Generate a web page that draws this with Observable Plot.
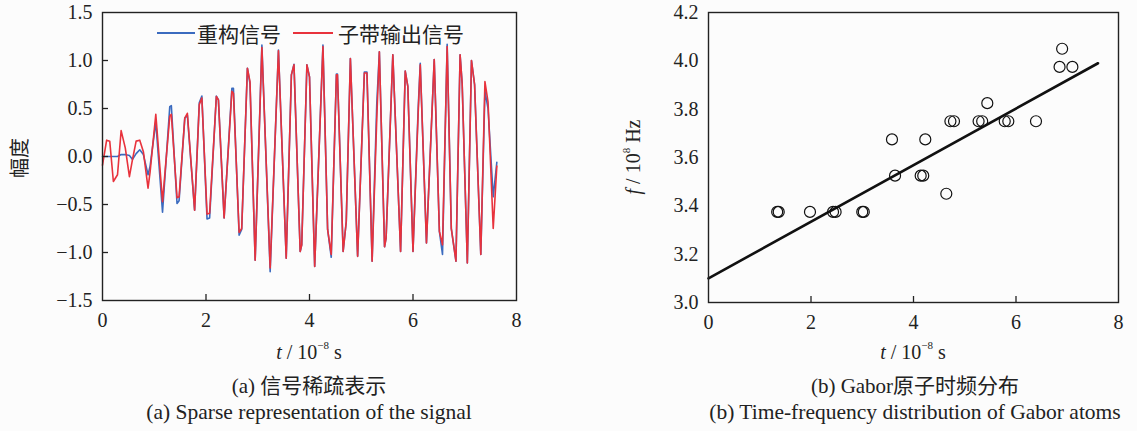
<!DOCTYPE html>
<html>
<head>
<meta charset="utf-8">
<script src="https://cdn.jsdelivr.net/npm/d3@7"></script>
<script src="https://cdn.jsdelivr.net/npm/@observablehq/plot@0.6"></script>
<style>
  html, body { margin: 0; padding: 0; background: #fcfcfc; }
  #page { position: relative; width: 1137px; height: 431px; overflow: hidden;
          font-family: "Liberation Serif", "Noto Sans CJK SC", serif; color: #222; }
  .abs { position: absolute; }
  .center { transform: translate(-50%, -50%); white-space: nowrap; }
  .rot { transform: translate(-50%, -50%) rotate(-90deg); white-space: nowrap; }
  .axlabel { font-size: 20px; }
  .axlabel sup { font-size: 11px; position: relative; top: -2px; }
  .cap-zh { font-size: 21px; }
  .cap-en { font-size: 21.5px; }
  .legend { font-family: "Noto Sans CJK SC", sans-serif; font-size: 21px; line-height: 1; }
  .swatch { height: 2px; }
</style>
</head>
<body>
<div id="page">
  <div id="left" class="abs" style="left:0;top:0"></div>
  <div id="right" class="abs" style="left:580px;top:0"></div>

  <!-- legend of the signal panel -->
  <div class="abs swatch" style="left:157px;top:32px;width:38px;background:#3b6bbf"></div>
  <div class="abs legend center" style="left:239px;top:33px">重构信号</div>
  <div class="abs swatch" style="left:293px;top:32px;width:40px;background:#e8323c"></div>
  <div class="abs legend center" style="left:401px;top:33px">子带输出信号</div>

  <!-- axis titles -->
  <div class="abs rot axlabel" style="left:18px;top:158px;font-family:'Noto Sans CJK SC',sans-serif">幅度</div>
  <div class="abs center axlabel" style="left:309px;top:352px"><i>t</i> / 10<sup>−8</sup> s</div>
  <div class="abs rot axlabel" style="left:633px;top:157px"><i>f</i> / 10<sup>8</sup> Hz</div>
  <div class="abs center axlabel" style="left:913px;top:352px"><i>t</i> / 10<sup>−8</sup> s</div>

  <!-- captions -->
  <div class="abs center cap-zh" style="left:309px;top:384px">(a) 信号稀疏表示</div>
  <div class="abs center cap-en" style="left:309px;top:412px">(a) Sparse representation of the signal</div>
  <div class="abs center cap-zh" style="left:915px;top:384px">(b) Gabor原子时频分布</div>
  <div class="abs center cap-en" style="left:915px;top:412px">(b) Time-frequency distribution of Gabor atoms</div>
</div>
<script>
// ---- signal panel: sample times (10^-8 s) and amplitudes ----
const time = [
  0.00,0.08,0.14,0.21,0.29,0.36,0.44,0.52,0.58,0.65,
  0.72,0.79,0.88,0.92,1.03,1.16,1.30,1.33,1.44,1.48,
  1.59,1.64,1.78,1.87,1.92,2.02,2.07,2.20,2.24,2.35,
  2.50,2.53,2.64,2.69,2.80,2.85,2.95,3.08,3.24,3.40,
  3.55,3.65,3.70,3.82,3.85,3.95,4.00,4.10,4.26,4.35,
  4.42,4.52,4.54,4.65,4.71,4.79,4.93,5.06,5.11,5.21,
  5.30,5.35,5.45,5.48,5.61,5.76,5.85,5.90,6.00,6.10,
  6.14,6.26,6.41,6.51,6.57,6.66,6.74,6.83,6.91,6.95,
  7.05,7.13,7.19,7.31,7.39,7.45,7.55,7.62
];
// 重构信号
const reconstructed = [
  0.00,0.00,0.00,0.00,0.00,0.02,0.02,0.01,-0.03,0.03,
  0.07,0.02,-0.19,-0.10,0.36,-0.58,0.52,0.53,-0.49,-0.46,
  0.40,0.43,-0.56,0.56,0.63,-0.65,-0.64,0.63,0.59,-0.64,
  0.71,0.71,-0.82,-0.76,0.92,0.76,-1.08,1.16,-1.20,1.11,
  -1.06,0.85,0.96,-0.99,-0.92,0.955,0.83,-1.146,1.16,-0.76,
  -1.05,0.86,0.86,-0.99,-0.68,1.02,-1.04,0.88,0.88,-1.09,
  0.55,1.09,-0.94,-0.85,1.06,-0.99,0.89,0.73,-0.99,0.50,
  0.97,-0.90,1.01,-0.78,-1.02,1.17,-0.75,-1.09,1.06,0.76,
  -1.11,1.00,0.75,-1.02,0.68,0.50,-0.42,-0.06
];
// 子带输出信号
const subband = [
  -0.09,0.17,0.16,-0.26,-0.19,0.27,0.09,-0.21,-0.03,0.16,
  0.17,0.05,-0.33,-0.16,0.44,-0.47,0.42,0.44,-0.43,-0.42,
  0.40,0.45,-0.56,0.54,0.61,-0.60,-0.59,0.625,0.59,-0.64,
  0.68,0.66,-0.79,-0.75,0.92,0.78,-1.08,1.135,-1.16,1.10,
  -1.06,0.85,0.955,-0.99,-0.92,0.955,0.83,-1.146,1.146,-0.76,
  -1.02,0.85,0.85,-0.99,-0.68,1.02,-1.04,0.87,0.87,-1.09,
  0.40,1.09,-0.94,-0.85,1.06,-0.99,0.89,0.73,-0.99,0.45,
  0.955,-0.90,1.01,-0.78,-0.92,1.146,-0.75,-1.09,1.06,0.76,
  -1.11,1.00,0.75,-1.02,0.78,0.57,-0.75,-0.10
];
const signalXTicks = [0, 2, 4, 6, 8];
const signalYTicks = [-1.5, -1.0, -0.5, 0.0, 0.5, 1.0, 1.5];

// ---- Gabor atoms: centre time (10^-8 s) and frequency (10^8 Hz) ----
const atomTime = [1.34,1.37,1.98,2.43,2.48,3.00,3.03,3.58,3.64,4.14,4.19,4.23,
                  4.64,4.72,4.79,5.27,5.34,5.44,5.78,5.85,6.39,6.85,6.90,7.10];
const atomFreq = [3.375,3.375,3.375,3.375,3.375,3.375,3.375,3.675,3.525,3.525,3.525,3.675,
                  3.45,3.75,3.75,3.75,3.75,3.825,3.75,3.75,3.75,3.975,4.05,3.975];
// fitted time-frequency trend
const trendTime = [0, 7.6];
const trendFreq = [3.10, 3.99];
const atomXTicks = [0, 2, 4, 6, 8];
const atomYTicks = [3.0, 3.2, 3.4, 3.6, 3.8, 4.0, 4.2];

const ink = "#222";
const baseStyle = {fontFamily: "Liberation Serif", fontSize: "20px", background: "transparent", color: ink, overflow: "visible"};
const fmt1 = d3.format(".1f");

// left panel geometry
const LW = 560, LH = 335, L = {top: 12, right: 44, bottom: 35, left: 102};
const left = Plot.plot({
  width: LW, height: LH,
  marginTop: L.top, marginRight: L.right, marginBottom: L.bottom, marginLeft: L.left,
  style: baseStyle,
  x: {domain: [0, 8]},
  y: {domain: [-1.5, 1.5]},
  marks: [
    Plot.line(time, {x: time, y: reconstructed, stroke: "#3b6bbf", strokeWidth: 1.6}),
    Plot.line(time, {x: time, y: subband, stroke: "#e8323c", strokeWidth: 1.6}),
    Plot.tickX(signalXTicks.slice(1, -1), {x: d => d, stroke: ink, strokeWidth: 1.3, insetTop: LH - L.top - L.bottom - 6}),
    Plot.tickY(signalYTicks.slice(1, -1), {y: d => d, stroke: ink, strokeWidth: 1.3, insetRight: LW - L.left - L.right - 6}),
    Plot.axisX(signalXTicks, {tickSize: 0, tickPadding: 12, tickFormat: d => d, label: null}),
    Plot.axisY(signalYTicks, {tickSize: 0, tickPadding: 10, tickFormat: fmt1, label: null}),
    Plot.frame({stroke: ink, strokeWidth: 1.4})
  ]
});
document.getElementById("left").appendChild(left);

// right panel geometry
const RW = 557, RH = 335, R = {top: 12, right: 19, bottom: 33, left: 128};
const right = Plot.plot({
  width: RW, height: RH,
  marginTop: R.top, marginRight: R.right, marginBottom: R.bottom, marginLeft: R.left,
  style: baseStyle,
  x: {domain: [0, 8]},
  y: {domain: [3.0, 4.2]},
  marks: [
    Plot.line(trendTime, {x: trendTime, y: trendFreq, stroke: "#111", strokeWidth: 2.6}),
    Plot.dot(atomTime, {x: atomTime, y: atomFreq, r: 5.5, stroke: "#111", strokeWidth: 1.2, fill: "none"}),
    Plot.tickX(atomXTicks.slice(1, -1), {x: d => d, stroke: ink, strokeWidth: 1.3, insetTop: RH - R.top - R.bottom - 6}),
    Plot.axisX(atomXTicks, {tickSize: 0, tickPadding: 12, tickFormat: d => d, label: null}),
    Plot.axisY(atomYTicks, {tickSize: 0, tickPadding: 10, tickFormat: fmt1, label: null}),
    Plot.frame({stroke: ink, strokeWidth: 1.4})
  ]
});
document.getElementById("right").appendChild(right);
</script>
</body>
</html>
